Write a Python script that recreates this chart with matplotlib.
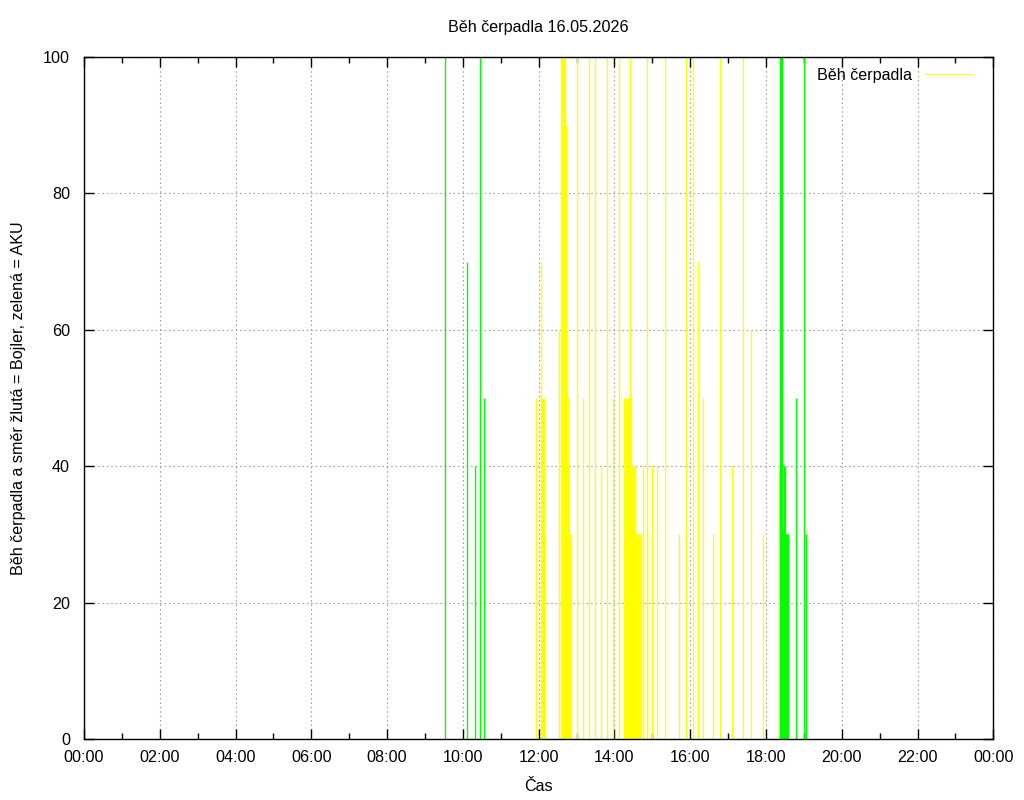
import matplotlib
matplotlib.use("Agg")
import matplotlib.pyplot as plt
from matplotlib.ticker import FuncFormatter, MultipleLocator
from matplotlib.lines import Line2D

plt.rcParams['font.family'] = ['Liberation Sans', 'DejaVu Sans']

# smer zelena = AKU
aku_times = ["09:32", "10:06", "10:20", "10:27", "10:34",
             "18:23", "18:24", "18:25", "18:26", "18:27", "18:28", "18:29", "18:30",
             "18:31", "18:32", "18:33", "18:34", "18:35", "18:47", "19:01", "19:04"]
aku_values = [100, 70, 40, 100, 50,
              100, 100, 100, 30, 30, 40, 40, 40,
              30, 30, 30, 30, 30, 50, 100, 30]

# smer zluta = Bojler
bojler_times = ["11:56", "12:04", "12:06", "12:07", "12:08", "12:09", "12:10",
                "12:33", "12:36", "12:37", "12:38", "12:39", "12:40", "12:41", "12:42", "12:43",
                "12:44", "12:45", "12:46", "12:47", "12:48", "12:49", "12:50", "12:51",
                "13:00", "13:11", "13:20", "13:30", "13:39", "13:48", "13:58", "14:07",
                "14:15", "14:19", "14:22", "14:23", "14:24", "14:25", "14:26",
                "14:27", "14:28", "14:29", "14:30", "14:31", "14:32", "14:33",
                "14:34", "14:35", "14:36", "14:37", "14:38", "14:39", "14:40", "14:41", "14:42",
                "14:46", "14:51", "14:52", "14:59", "15:08", "15:20", "15:42", "15:53",
                "16:04", "16:13", "16:21", "16:36", "16:48", "17:07", "17:24", "17:37",
                "17:56", "18:20"]
bojler_values = [50, 70, 50, 50, 50, 30, 30,
                 60, 100, 100, 90, 90, 100, 100, 90, 90,
                 60, 60, 50, 50, 40, 30, 30, 30,
                 100, 50, 100, 100, 40, 100, 50, 100,
                 50, 50, 50, 50, 50, 100, 50,
                 40, 40, 40, 40, 40, 40, 40,
                 30, 30, 30, 30, 30, 30, 30, 30, 30,
                 40, 100, 30, 40, 40, 100, 30, 100,
                 100, 70, 50, 30, 100, 40, 100, 60,
                 30, 40]


def to_hours(t):
    h, m = t.split(":")
    return int(h) + int(m) / 60.0


def hour_label(x, pos):
    return "%02d:00" % (int(round(x)) % 24)


fs = 11.6

fig = plt.figure(figsize=(10.24, 8.0), dpi=100)
ax = fig.add_axes([0.082, 0.076, 0.888, 0.853])

ax.vlines([to_hours(t) for t in bojler_times], 0, bojler_values,
          color="#ffff00", linewidth=1.0, zorder=3)
ax.vlines([to_hours(t) for t in aku_times], 0, aku_values,
          color="#00ff00", linewidth=1.0, zorder=3)

ax.set_xlim(0, 24)
ax.set_ylim(0, 100)
ax.xaxis.set_major_locator(MultipleLocator(2))
ax.xaxis.set_minor_locator(MultipleLocator(1))
ax.xaxis.set_major_formatter(FuncFormatter(hour_label))
ax.yaxis.set_major_locator(MultipleLocator(20))

ax.tick_params(which="both", direction="in", top=True, right=True,
               labelsize=fs)
ax.tick_params(axis="x", pad=8)
ax.tick_params(axis="y", pad=10)
ax.tick_params(which="major", length=7, width=1)
ax.tick_params(which="minor", length=4, width=1)
for s in ax.spines.values():
    s.set_linewidth(1)
    s.set_zorder(5)

ax.grid(True, which="major", color="#a0a0a0", linestyle=(0, (1.5, 2.5)), linewidth=0.8, zorder=1)

ax.set_title("Běh čerpadla 16.05.2026", fontsize=fs, pad=18)
ax.set_xlabel("Čas", fontsize=fs, labelpad=9.5)
ax.set_ylabel("Běh čerpadla a směr žlutá = Bojler, zelená = AKU", fontsize=fs, labelpad=12.5)

handle = Line2D([], [], color="#ffff00", linewidth=0.7)
leg = ax.legend([handle], ["Běh čerpadla"], loc="upper right", frameon=False,
                fontsize=fs, markerfirst=False, handlelength=2.9,
                borderaxespad=0.5, handletextpad=0.8,
                bbox_to_anchor=(0.992, 1.005))

fig.savefig("out.png", dpi=100)
